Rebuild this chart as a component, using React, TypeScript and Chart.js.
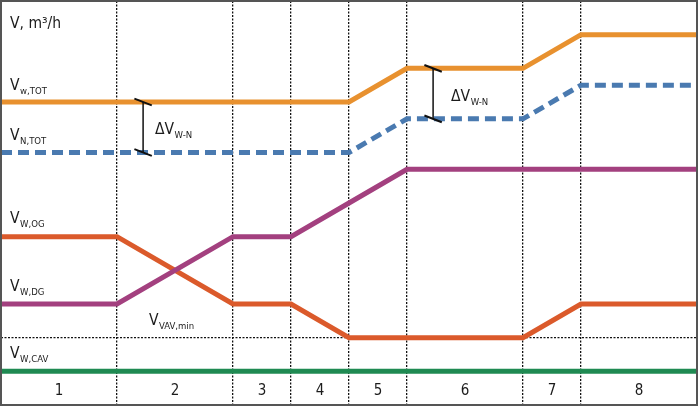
import React, { useEffect, useRef } from "react";
import { Chart, registerables } from "chart.js";

Chart.register(...registerables);

// Phase boundaries along the time axis (arbitrary units)
const phaseBounds = [0, 2, 4, 5, 6, 7, 9, 10, 12];
const phaseLabels = ["1", "2", "3", "4", "5", "6", "7", "8"];

// Air volume flows at each phase boundary
const vwTot = [8, 8, 8, 8, 8, 9, 9, 10, 10];
const vnTot = [6.5, 6.5, 6.5, 6.5, 6.5, 7.5, 7.5, 8.5, 8.5];
const vwOg = [4, 4, 2, 2, 1, 1, 1, 2, 2];
const vwDg = [2, 2, 4, 4, 5, 6, 6, 6, 6];
const vwCav = [0, 0, 0, 0, 0, 0, 0, 0, 0];

// Horizontal reference line (minimum VAV flow)
const vavMin = 1;

// ΔV(W-N) markers: position on time axis, upper and lower flow
const deltaPos = [2.45, 7.45];
const deltaUpper = [8, 9];
const deltaLower = [6.5, 7.5];

const Y_MIN = -1;
const Y_MAX = 11;

const COLORS = {
  wTot: "#E8912F",
  nTot: "#4A7AB0",
  wOg: "#DB5A2B",
  wDg: "#A3407F",
  wCav: "#1F8A52",
  text: "#1c1c1c",
  grid: "#111111",
  frame: "#555555",
};

const FONT = "'Liberation Sans Narrow', 'DejaVu Sans Condensed', 'Arial Narrow', sans-serif";

type Label = { main: string; sub?: string; x: number; y: number };

// Text annotations placed in data coordinates
const textLabels: Label[] = [
  { main: "V, m³/h", x: 0.155, y: 10.2 },
  { main: "V", sub: "w,TOT", x: 0.155, y: 8.36 },
  { main: "V", sub: "N,TOT", x: 0.155, y: 6.87 },
  { main: "V", sub: "W,OG", x: 0.155, y: 4.41 },
  { main: "V", sub: "W,DG", x: 0.155, y: 2.39 },
  { main: "V", sub: "VAV,min", x: 2.55, y: 1.38 },
  { main: "V", sub: "W,CAV", x: 0.155, y: 0.4 },
  { main: "ΔV", sub: "W-N", x: 2.655, y: 7.05 },
  { main: "ΔV", sub: "W-N", x: 7.76, y: 8.03 },
];

const series = (values: number[]) => values.map((v, i) => ({ x: phaseBounds[i], y: v }));

const lineDs = (label: string, values: number[], color: string, extra: any = {}) => ({
  label,
  data: series(values),
  borderColor: color,
  borderWidth: 5,
  pointRadius: 0,
  tension: 0,
  fill: false,
  borderJoinStyle: "miter" as const,
  ...extra,
});

const markerDatasets = () => {
  const out: any[] = [];
  deltaPos.forEach((x, i) => {
    const top = deltaUpper[i];
    const bottom = deltaLower[i];
    const common = { borderColor: "#111", pointRadius: 0, fill: false, tension: 0 };
    out.push({ label: `dV${i}`, data: [{ x, y: top }, { x, y: bottom }], borderWidth: 1.5, ...common });
    out.push({ label: `dVt${i}`, data: [{ x: x - 0.15, y: top + 0.1 }, { x: x + 0.15, y: top - 0.1 }], borderWidth: 2, ...common });
    out.push({ label: `dVb${i}`, data: [{ x: x - 0.15, y: bottom + 0.1 }, { x: x + 0.15, y: bottom - 0.1 }], borderWidth: 2, ...common });
  });
  return out;
};

const annotationPlugin = {
  id: "flowAnnotations",
  afterDatasetsDraw(chart: any) {
    const { ctx, chartArea, scales } = chart;
    const xs = scales.x;
    const ys = scales.y;
    ctx.save();
    ctx.fillStyle = COLORS.text;
    ctx.textBaseline = "alphabetic";
    ctx.textAlign = "left";

    textLabels.forEach((l) => {
      const px = xs.getPixelForValue(l.x);
      const py = ys.getPixelForValue(l.y);
      ctx.font = `15.5px ${FONT}`;
      ctx.fillText(l.main, px, py);
      if (l.sub) {
        const w = ctx.measureText(l.main).width;
        ctx.font = `9.5px ${FONT}`;
        ctx.fillText(l.sub, px + w + 0.5, py + 4);
      }
    });

    // Phase numbers centred in each segment
    ctx.textAlign = "center";
    ctx.font = `15px ${FONT}`;
    phaseLabels.forEach((t, i) => {
      const mid = (phaseBounds[i] + phaseBounds[i + 1]) / 2;
      ctx.fillText(t, xs.getPixelForValue(mid), ys.getPixelForValue(-0.7));
    });

    // Outer frame
    ctx.strokeStyle = COLORS.frame;
    ctx.lineWidth = 2;
    ctx.strokeRect(
      chartArea.left,
      chartArea.top,
      chartArea.right - chartArea.left,
      chartArea.bottom - chartArea.top
    );
    ctx.restore();
  },
};

export default function App() {
  const ref = useRef<HTMLCanvasElement | null>(null);

  useEffect(() => {
    if (!ref.current) return;
    const chart = new Chart(ref.current, {
      type: "line",
      data: {
        datasets: [
          ...markerDatasets(),
          lineDs("V W,DG", vwDg, COLORS.wDg),
          lineDs("V W,OG", vwOg, COLORS.wOg),
          lineDs("V N,TOT", vnTot, COLORS.nTot, { borderDash: [11, 6] }),
          lineDs("V w,TOT", vwTot, COLORS.wTot),
          lineDs("V W,CAV", vwCav, COLORS.wCav),
        ],
      },
      options: {
        responsive: false,
        animation: false,
        layout: { padding: { left: 1, top: 1, right: 3, bottom: 3 } },
        plugins: { legend: { display: false }, tooltip: { enabled: false } },
        events: [],
        scales: {
          x: {
            type: "linear",
            min: phaseBounds[0],
            max: phaseBounds[phaseBounds.length - 1],
            afterBuildTicks: (axis: any) => {
              axis.ticks = phaseBounds.map((v) => ({ value: v }));
            },
            ticks: { display: false },
            grid: { color: COLORS.grid, lineWidth: 1.3, drawTicks: false },
            border: { display: false, dash: [2, 1.5] },
          },
          y: {
            type: "linear",
            min: Y_MIN,
            max: Y_MAX,
            afterBuildTicks: (axis: any) => {
              axis.ticks = [{ value: vavMin }];
            },
            ticks: { display: false },
            grid: { color: COLORS.grid, lineWidth: 1.3, drawTicks: false },
            border: { display: false, dash: [2, 1.5] },
          },
        },
      },
      plugins: [annotationPlugin],
    });
    return () => chart.destroy();
  }, []);

  return (
    <div style={{ position: "fixed", left: 0, top: 0, width: 700, height: 408, background: "#fff" }}>
      <canvas ref={ref} width={700} height={408} style={{ display: "block" }} />
    </div>
  );
}
